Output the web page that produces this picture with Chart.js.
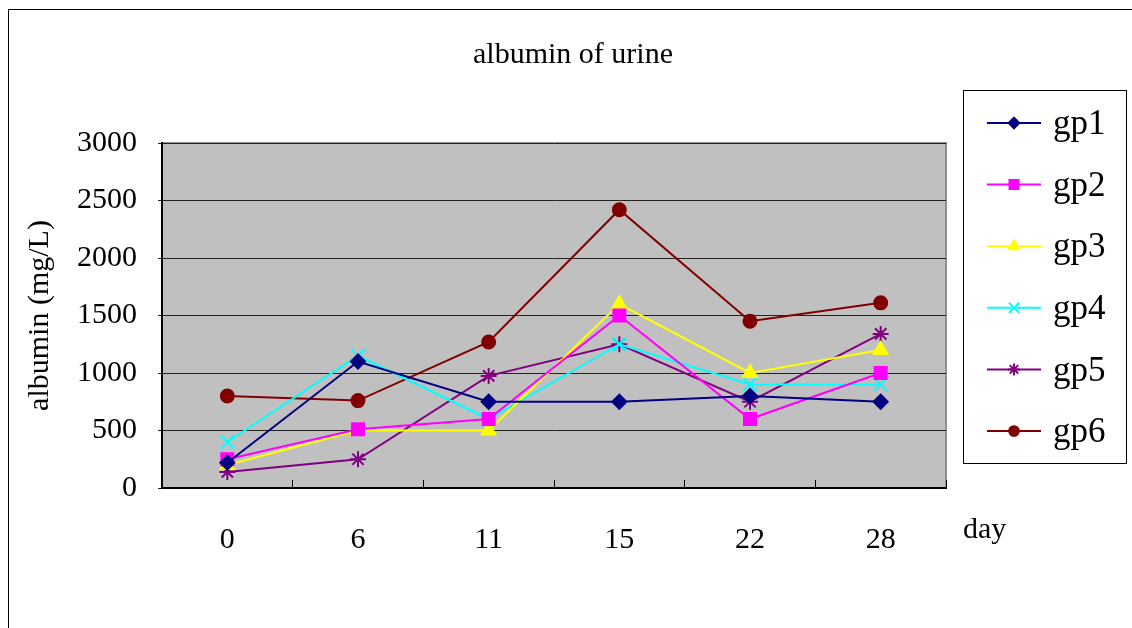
<!DOCTYPE html>
<html>
<head>
<meta charset="utf-8">
<script src="https://cdn.jsdelivr.net/npm/chart.js"></script>
<style>
  body { margin: 0; background: #fff; overflow: hidden; }
  #frame { position: absolute; left: 8px; top: 9px; width: 1200px; height: 700px;
           border-top: 1px solid #000; border-left: 1px solid #000; }
  #c { position: absolute; left: 0; top: 0; }
</style>
</head>
<body>
<div id="frame"></div>
<canvas id="c" width="1132" height="628"></canvas>
<script>
// days on the x axis
const days = ['0', '6', '11', '15', '22', '28'];

// albumin (mg/L) per group
const gp1 = [220, 1100, 750, 750, 800, 750];
const gp2 = [250, 510, 600, 1500, 600, 1000];
const gp3 = [200, 500, 500, 1600, 1000, 1200];
const gp4 = [400, 1150, 600, 1250, 900, 900];
const gp5 = [140, 250, 975, 1250, 750, 1340];
const gp6 = [800, 760, 1270, 2420, 1450, 1610];

const groupNames = ['gp1', 'gp2', 'gp3', 'gp4', 'gp5', 'gp6'];
const groupValues = [gp1, gp2, gp3, gp4, gp5, gp6];
const groupColors = ['#000080', '#ff00ff', '#ffff00', '#00ffff', '#800080', '#800000'];
const groupMarkers = ['rectRot', 'rect', 'triangle', 'crossRot', 'star', 'circle'];
const markerSizes = [7, 8.5, 8, 9.5, 8, 6.5];

const chartTitle = 'albumin of urine';
const serif = "'Liberation Serif', 'DejaVu Serif', serif";

// grey plot background + light border on top/right
const plotBack = {
	id: 'plotBack',
	beforeDraw(chart) {
		const a = chart.chartArea, ctx = chart.ctx;
		ctx.save();
		ctx.fillStyle = '#c0c0c0';
		ctx.fillRect(a.left, a.top, a.right - a.left, a.bottom - a.top);
		ctx.strokeStyle = '#909090';
		ctx.lineWidth = 2;
		ctx.beginPath();
		ctx.moveTo(a.left, a.top);
		ctx.lineTo(a.right, a.top);
		ctx.lineTo(a.right, a.bottom);
		ctx.stroke();
		ctx.restore();
	}
};

// title, boxed legend at the right and the "day" label
const sideLegend = {
	id: 'sideLegend',
	afterDraw(chart) {
		const ctx = chart.ctx;
		ctx.save();
		ctx.fillStyle = '#000';
		ctx.font = '30px ' + serif;
		ctx.textAlign = 'center';
		ctx.textBaseline = 'middle';
		ctx.fillText(chartTitle, 573, 55);

		ctx.strokeStyle = '#000';
		ctx.lineWidth = 1;
		ctx.strokeRect(963.5, 90.5, 163, 373);
		chart.data.datasets.forEach((ds, i) => {
			const y = 123 + i * 61.6;
			ctx.strokeStyle = ds.borderColor;
			ctx.lineWidth = 2;
			ctx.beginPath();
			ctx.moveTo(987, y);
			ctx.lineTo(1041, y);
			ctx.stroke();
			ctx.fillStyle = ds.borderColor;
			Chart.helpers.drawPoint(ctx, {
				pointStyle: ds.pointStyle, radius: ds.pointRadius * 0.75, borderWidth: 2, rotation: 0
			}, 1014, y);
			ctx.fillStyle = '#000';
			ctx.font = '35px ' + serif;
			ctx.textBaseline = 'middle';
			ctx.textAlign = 'left';
			ctx.fillText(ds.label, 1053, y + 2);
		});
		ctx.font = '30px ' + serif;
		ctx.fillStyle = '#000';
		ctx.textAlign = 'left';
		ctx.textBaseline = 'middle';
		ctx.fillText('day', 963, 530);
		ctx.restore();
	}
};

const ctx = document.getElementById('c').getContext('2d');

new Chart(ctx, {
	type: 'line',
	data: {
		labels: days,
		datasets: groupNames.map((name, i) => ({
			label: name,
			data: groupValues[i],
			borderColor: groupColors[i],
			backgroundColor: groupColors[i],
			borderWidth: 2,
			pointStyle: groupMarkers[i],
			pointRadius: markerSizes[i],
			pointBorderWidth: 2,
			tension: 0,
			fill: false
		}))
	},
	options: {
		responsive: false,
		animation: false,
		layout: { padding: { left: 0, right: 186, top: 143, bottom: 0 } },
		plugins: {
			legend: { display: false },
			tooltip: { enabled: false },
			title: { display: false }
		},
		scales: {
			x: {
				offset: true,
				grid: { offset: true, drawOnChartArea: false, tickLength: -8, color: '#000', lineWidth: 1 },
				border: { color: '#000', width: 2 },
				ticks: { color: '#000', font: { family: serif, size: 30 }, padding: 42 },
				afterFit(scale) { scale.height = 140; }
			},
			y: {
				min: 0,
				max: 3000,
				ticks: {
					stepSize: 500, color: '#000', font: { family: serif, size: 30 }, padding: 21,
					callback: v => String(v)
				},
				grid: { color: '#222', lineWidth: 1, tickLength: 4 },
				border: { color: '#000', width: 2 },
				title: {
					display: true,
					text: 'albumin (mg/L)',
					color: '#000',
					font: { family: serif, size: 30 },
					padding: { top: 22, bottom: 0 }
				},
				afterFit(scale) { scale.width = 162; }
			}
		}
	},
	plugins: [plotBack, sideLegend]
});
</script>
</body>
</html>
